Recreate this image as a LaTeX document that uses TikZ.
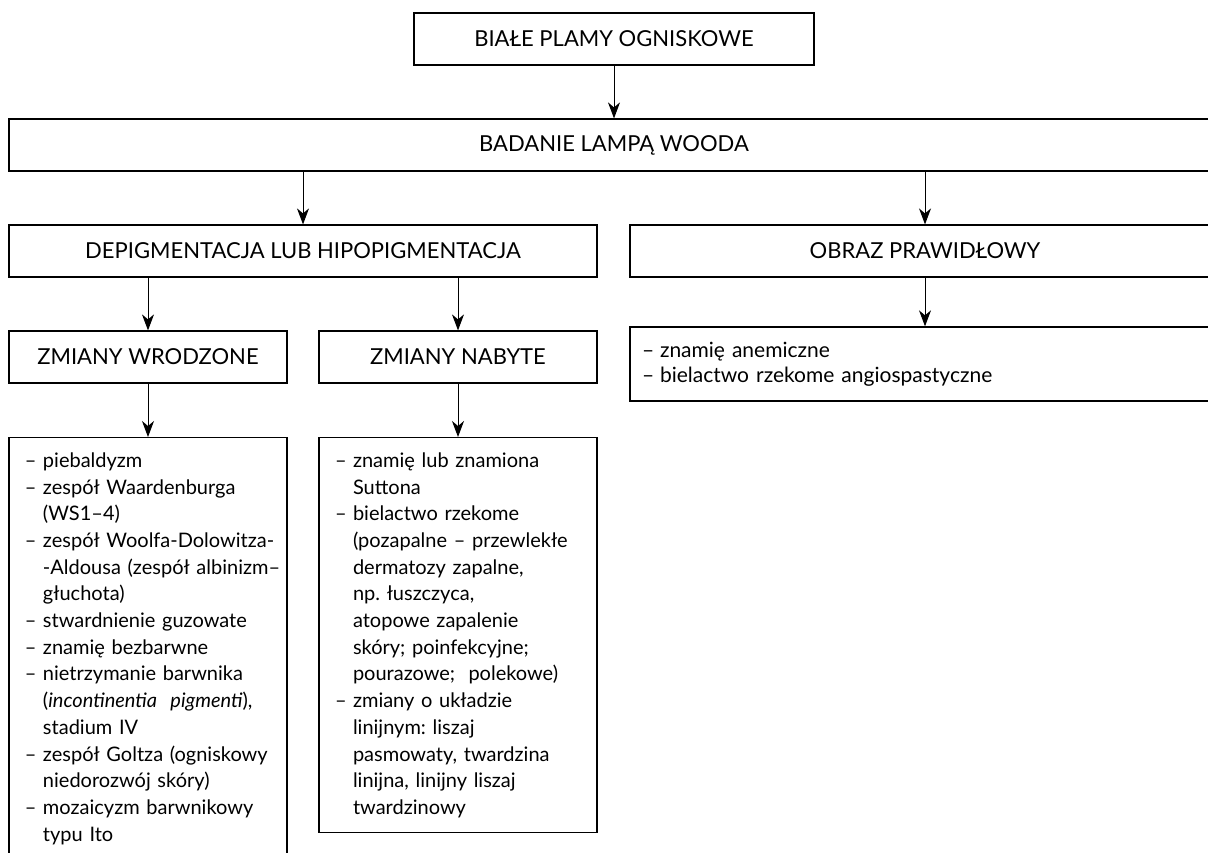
\documentclass[tikz,border=0pt]{standalone}
\usepackage{fontspec}
\setmainfont{Lato}
\frenchspacing
\usetikzlibrary{arrows.meta}
\newcommand{\md}[1]{\mbox{\makebox[9pt][l]{–}#1}}
\newcommand{\mi}[1]{\mbox{\hspace*{9pt}#1}}
\tikzset{
  box/.style={draw, line width=0.6pt, inner sep=0pt, font=\fontsize{11}{13}\selectfont},
  lista/.style={draw, line width=0.6pt, inner xsep=8pt, inner ysep=7.5pt, align=left,
    font=\fontsize{10}{13.35}\selectfont},
  arr/.style={-{Stealth[length=8pt,width=6pt,inset=2.5pt]}, line width=0.5pt}
}
\begin{document}
\begin{tikzpicture}[x=0.5pt,y=-0.5pt]
\useasboundingbox (0,0) rectangle (1208,852);
\clip (0,0) rectangle (1208,852);
\node[box, minimum width=200pt, minimum height=26pt] (plamy) at (614,39) {BIAŁE PLAMY OGNISKOWE};
\node[box, minimum width=605pt, minimum height=26pt] (lampa) at (614,145) {BADANIE LAMPĄ WOODA};
\node[box, minimum width=294pt, minimum height=26pt] (depig) at (303,251) {DEPIGMENTACJA LUB HIPOPIGMENTACJA};
\node[box, minimum width=295pt, minimum height=26pt] (obraz) at (925,251) {OBRAZ PRAWIDŁOWY};
\node[box, minimum width=139pt, minimum height=26pt] (wrodz) at (148,357) {ZMIANY WRODZONE};
\node[box, minimum width=139pt, minimum height=26pt] (nabyte) at (458,357) {ZMIANY NABYTE};
%%%%
\node[lista, inner xsep=6pt, text width=283pt, minimum height=33pt,
  font=\fontsize{10.5}{12.5}\selectfont] (obrazlist) at (925,364)
  {\md{znamię anemiczne}\\ \md{bielactwo rzekome angiospastyczne}};
\node[lista, text width=123pt, anchor=north] (wrodzlist) at (148,437)
  {\md{piebaldyzm}\\
   \md{zespół Waardenburga}\\
   \mi{(WS1–4)}\\
   \md{zespół Woolfa-Dolowitza-}\\
   \mi{-Aldousa (zespół albinizm–}\\
   \mi{głuchota)}\\
   \md{stwardnienie guzowate}\\
   \md{znamię bezbarwne}\\
   \md{nietrzymanie barwnika}\\
   \mi{(\textit{incontinentia\ \ pigmenti}),}\\
   \mi{stadium IV}\\
   \md{zespół Goltza (ogniskowy}\\
   \mi{niedorozwój skóry)}\\
   \md{mozaicyzm barwnikowy}\\
   \mi{typu Ito}};
\node[lista, text width=123pt, anchor=north] (nabytelist) at (458,437)
  {\md{znamię lub znamiona}\\
   \mi{Suttona}\\
   \md{bielactwo rzekome}\\
   \mi{(pozapalne – przewlekłe}\\
   \mi{dermatozy zapalne,}\\
   \mi{np. łuszczyca,}\\
   \mi{atopowe zapalenie}\\
   \mi{skóry; poinfekcyjne;}\\
   \mi{pourazowe;\ \ polekowe)}\\
   \md{zmiany o układzie}\\
   \mi{linijnym: liszaj}\\
   \mi{pasmowaty, twardzina}\\
   \mi{linijna, linijny liszaj}\\
   \mi{twardzinowy}};
%%%%
\draw[arr] (plamy.south) -- (lampa.north);
\draw[arr] (depig.north |- lampa.south) -- (depig.north);
\draw[arr] (obraz.north |- lampa.south) -- (obraz.north);
\draw[arr] (wrodz.north |- depig.south) -- (wrodz.north);
\draw[arr] (nabyte.north |- depig.south) -- (nabyte.north);
\draw[arr] (obraz.south) -- (obrazlist.north);
\draw[arr] (wrodz.south) -- (wrodzlist.north);
\draw[arr] (nabyte.south) -- (nabytelist.north);
\end{tikzpicture}
\end{document}
